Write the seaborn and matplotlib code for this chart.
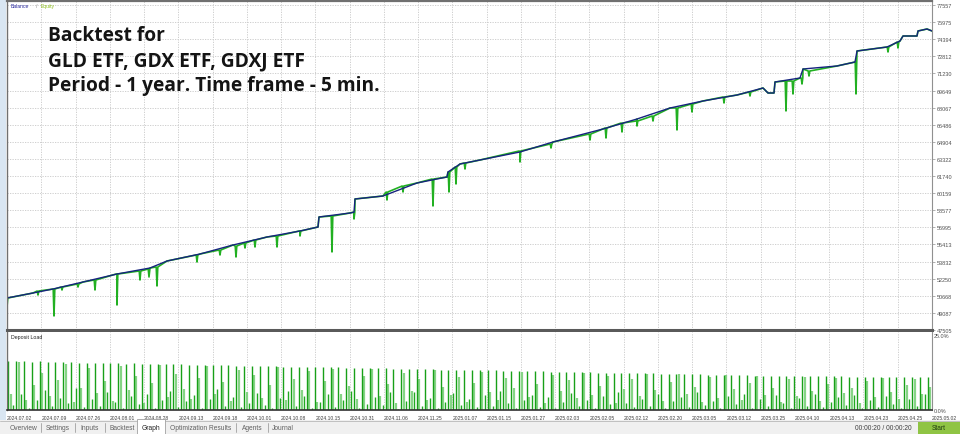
import numpy as np
import pandas as pd
import matplotlib
matplotlib.use("Agg")
import matplotlib.pyplot as plt
import matplotlib.transforms as mtransforms
from matplotlib.patches import Rectangle
import seaborn as sns

# balance curve: deal number and balance
balance_deal = [0, 26, 46, 76, 110, 143, 160, 193, 226, 260,
                293, 311, 312, 343, 347, 348, 376, 410, 440, 441,
                453, 473, 513, 546, 596, 630, 663, 696, 730, 756,
                761, 767, 768, 793, 796, 830, 848, 850, 880, 893,
                896, 910, 911, 920, 925]
balance_value = [50464, 50926, 51296, 51944, 52683, 53238, 53885, 54533, 55365, 56105,
                 56660, 57029, 57954, 58324, 58400, 59619, 59896, 61098, 61653, 62115,
                 62855, 63225, 63965, 64889, 66091, 67016, 68033, 68681, 69235, 69883,
                 69420, 69420, 70438, 70807, 71640, 71917, 72287, 73304, 73674, 74229,
                 74691, 74691, 75154, 75338, 75154]

# equity drawdowns (spikes below balance)
dip_deal = [0, 31, 47, 55, 71, 88, 110, 133, 142, 150,
            190, 213, 229, 238, 248, 270, 293, 325, 347, 380,
            396, 426, 442, 449, 458, 513, 544, 583, 599, 615,
            630, 646, 670, 685, 717, 743, 779, 786, 795, 802,
            849, 881, 891]
dip_top = [50464, 51111, 51296, 51481, 51759, 52129, 52683, 52961, 53146, 53331,
           54440, 54903, 55273, 55550, 55827, 56197, 56660, 58047, 58400, 60266,
           60820, 61468, 62115, 62577, 62947, 64057, 64704, 65629, 66184, 66646,
           66831, 67294, 68033, 68403, 69050, 69513, 70530, 70530, 70807, 71455,
           72287, 73674, 74137]
dip_low = [49632, 50741, 48800, 51204, 51481, 51204, 49817, 52129, 52407, 51574,
           53793, 54440, 54255, 55088, 55180, 55180, 56197, 54718, 57769, 59526,
           60266, 58971, 60266, 61005, 62392, 63040, 64335, 65074, 65259, 65814,
           66369, 66831, 65999, 67664, 68496, 69143, 67757, 69328, 70252, 70992,
           69328, 73212, 73582]

# deposit load, % (one group of three positions per signal)
load_main = [16.3, 16.2, 16.2, 16.1, 16.2, 16.0, 16.0, 15.9, 16.0, 15.8,
             15.8, 15.7, 15.8, 15.6, 15.6, 15.5, 15.6, 15.4, 15.4, 15.3,
             15.3, 15.2, 15.2, 15.1, 15.1, 15.0, 15.0, 14.9, 14.9, 14.8,
             14.8, 14.7, 14.7, 14.6, 14.6, 14.5, 14.5, 14.4, 14.4, 14.3,
             14.3, 14.2, 14.2, 14.1, 14.1, 14.0, 14.0, 13.9, 13.9, 13.8,
             13.8, 13.7, 13.7, 13.6, 13.6, 13.5, 13.5, 13.4, 13.4, 13.3,
             13.3, 13.2, 13.2, 13.1, 13.1, 13.0, 13.0, 12.9, 12.9, 12.8,
             12.8, 12.7, 12.7, 12.6, 12.6, 12.5, 12.5, 12.4, 12.4, 12.3,
             12.3, 12.2, 12.2, 12.1, 12.1, 12.0, 12.0, 11.9, 11.9, 11.8,
             11.8, 11.7, 11.7, 11.6, 11.6, 11.5, 11.5, 11.5, 11.4, 11.4,
             11.4, 11.3, 11.3, 11.3, 11.2, 11.2, 11.2, 11.1, 11.1, 11.1,
             11.0, 11.0, 11.0, 11.0, 10.9, 10.9, 10.9, 10.9]
load_second = [5.3, 15.9, 3.4, 8.2, 12.5, 4.6, 10.1, 15.5, 2.8, 7.4,
               13.9, 5.8, 9.6, 3.1, 14.8, 6.7, 11.2, 2.4, 8.9, 15.1,
               4.3, 12.0, 7.1, 3.6, 10.8, 14.6, 5.2, 9.3, 2.9, 13.4,
               6.1, 11.7, 4.0, 8.4, 14.2, 3.3, 10.2, 6.8, 12.9, 2.6,
               9.7, 13.6, 5.5, 7.9, 3.8, 11.4, 13.8, 4.7, 8.6, 2.2,
               12.3, 6.4, 10.5, 3.5, 13.2, 7.6, 4.9, 11.0, 2.7, 9.1,
               12.8, 5.9, 3.2, 10.7, 7.3, 12.6, 4.4, 8.8, 2.5, 11.8,
               6.2, 9.9, 3.9, 12.4, 5.1, 8.1, 11.5, 2.3, 7.0, 10.3,
               4.6, 12.1, 6.6, 3.0, 9.4, 11.9, 5.4, 7.7, 2.8, 10.9,
               4.1, 11.6, 6.9, 3.4, 9.0, 11.3, 5.0, 7.5, 2.6, 10.4,
               4.8, 11.1, 6.3, 3.1, 8.7, 10.6, 5.6, 7.2, 2.4, 9.8,
               4.2, 10.8, 6.0, 3.7, 8.3, 10.5, 5.3, 7.8]
load_third = [1.6, 5.2, 0.8, 3.5, 6.8, 1.2, 4.1, 2.3, 7.2, 0.9,
              3.8, 1.5, 6.1, 2.7, 0.7, 4.6, 1.9, 5.5, 0.6, 3.2,
              6.4, 1.1, 2.9, 5.0, 0.8, 3.6, 7.0, 1.4, 4.3, 0.9,
              2.5, 5.8, 1.7, 0.6, 3.9, 6.2, 1.3, 4.8, 0.7, 2.8,
              5.3, 1.0, 3.4, 6.5, 0.8, 2.1, 4.5, 1.6, 5.9, 0.5,
              3.0, 6.0, 1.2, 4.0, 0.7, 2.6, 5.6, 1.8, 3.7, 0.9,
              4.9, 1.4, 6.3, 2.2, 0.6, 3.5, 5.1, 1.1, 4.4, 0.8,
              2.7, 5.7, 1.5, 3.3, 0.7, 4.7, 1.9, 6.1, 2.4, 0.9,
              3.8, 1.3, 5.4, 0.6, 2.9, 4.2, 1.0, 5.9, 1.7, 3.1,
              0.8, 4.6, 2.0, 5.2, 0.7, 3.6, 1.4, 4.9, 2.3, 0.6,
              3.9, 1.2, 5.5, 0.9, 2.6, 4.3, 1.6, 5.0, 0.7, 3.2,
              1.1, 4.8, 2.1, 0.6, 3.7, 1.5, 5.3, 0.9]

y_labels = [47505, 49087, 50668, 52250, 53832, 55413, 56995, 58577, 60159, 61740,
            63322, 64904, 66486, 68067, 69649, 71230, 72812, 74394, 75975, 77557]
date_labels = ["2024.07.02", "2024.07.09", "2024.07.26", "2024.08.01", "2024.08.28",
               "2024.09.13", "2024.09.18", "2024.10.01", "2024.10.08", "2024.10.15",
               "2024.10.31", "2024.11.06", "2024.11.25", "2025.01.07", "2025.01.15",
               "2025.01.27", "2025.02.03", "2025.02.05", "2025.02.12", "2025.02.20",
               "2025.03.05", "2025.03.12", "2025.03.25", "2025.04.10", "2025.04.13",
               "2025.04.23", "2025.04.25", "2025.05.02"]
tabs = ["Overview", "Settings", "Inputs", "Backtest", "Graph",
        "Optimization Results", "Agents", "Journal"]

n_deals = 925
date_pos = np.linspace(0, n_deals, len(date_labels))

# equity = balance with the drawdown spikes merged in
eq = pd.DataFrame({"deal": balance_deal, "value": balance_value})
spikes = pd.DataFrame({
    "deal": np.concatenate([np.array(dip_deal) - 0.8, dip_deal, np.array(dip_deal) + 0.8]),
    "value": np.concatenate([dip_top, dip_low, dip_top]),
})
eq = pd.concat([eq, spikes]).sort_values("deal", kind="mergesort")
bal = pd.DataFrame({"deal": balance_deal, "value": balance_value})

sns.set_style("white")
plt.rcParams["font.family"] = ["Liberation Sans", "DejaVu Sans"]

W, H = 960, 435
fig = plt.figure(figsize=(W / 100, H / 100), dpi=100)


def px_axes(x0, y0, x1, y1, **kw):
    return fig.add_axes([x0 / W, 1 - y1 / H, (x1 - x0) / W, (y1 - y0) / H], **kw)


bg = px_axes(0, 0, W, H, zorder=0)
bg.set_xlim(0, W)
bg.set_ylim(H, 0)
bg.axis("off")
bg.add_patch(Rectangle((0, 0), 6, 422, color="#d9e6f2", lw=0))
bg.add_patch(Rectangle((0, 421), W, 14, color="#f0f0f0", lw=0))
bg.plot([0, W], [421.5, 421.5], color="#b8b8b8", lw=0.6)

grid_kw = dict(color="#c8c8c8", lw=0.6, linestyle=(0, (1.5, 1.5)))

# main balance / equity panel
ax = px_axes(7, 2, 932, 331, zorder=2)
sns.lineplot(data=eq, x="deal", y="value", ax=ax, color="#22b022", lw=1.2,
             estimator=None, sort=False)
sns.lineplot(data=bal, x="deal", y="value", ax=ax, color="#16237e", lw=1.0,
             estimator=None, sort=False)
ax.set_xlim(0, n_deals)
ax.set_ylim(y_labels[0], y_labels[-1] + 4 * (y_labels[-1] - y_labels[0]) / 325)
ax.set_yticks(y_labels)
ax.set_yticklabels([str(v) for v in y_labels])
ax.yaxis.tick_right()
ax.set_xticks(date_pos)
ax.set_xticklabels([])
ax.tick_params(axis="x", length=0)
ax.tick_params(axis="y", direction="out", length=2, width=0.5, color="#909090",
               labelsize=4, labelcolor="#505050", pad=1.5)
ax.grid(True, **grid_kw)
ax.set_xlabel("")
ax.set_ylabel("")
for side, c, w in [("left", "#707070", 1.0), ("top", "#707070", 1.6),
                   ("right", "#909090", 0.8), ("bottom", "#5a5a5a", 2.2)]:
    ax.spines[side].set_color(c)
    ax.spines[side].set_linewidth(w)
ax.text(0.004, 0.994, "Balance", color="#2a2aa0", fontsize=3.6, transform=ax.transAxes,
        va="top", ha="left")
ax.text(0.031, 0.994, "/", color="#808080", fontsize=3.6, transform=ax.transAxes,
        va="top", ha="left")
ax.text(0.036, 0.994, "Equity", color="#8cbf1a", fontsize=3.6, transform=ax.transAxes,
        va="top", ha="left")

# deposit load panel
axl = px_axes(7, 333, 932, 411, zorder=2)
step = 7.86
base = 1.3 + step * np.arange(len(load_main))
axl.vlines(base + 2.4, 0, load_second, colors="#86d486", lw=1.6)
axl.vlines(base, 0, load_main, colors="#18a018", lw=1.0)
axl.vlines(base + 4.8, 0, load_third, colors="#1fa81f", lw=1.0)
axl.set_xlim(0, n_deals)
axl.set_ylim(0, 26)
axl.set_yticks([0, 25])
axl.set_yticklabels(["0.0%", "25.0%"])
axl.yaxis.tick_right()
axl.set_xticks(date_pos)
axl.set_xticklabels([])
axl.tick_params(axis="x", length=0)
axl.tick_params(axis="y", length=0, labelsize=4, labelcolor="#505050", pad=1.5)
axl.grid(True, axis="x", **grid_kw)
for side, c, w in [("left", "#707070", 1.0), ("top", "#5a5a5a", 0.0),
                   ("right", "#909090", 0.8), ("bottom", "#303030", 1.2)]:
    axl.spines[side].set_color(c)
    axl.spines[side].set_linewidth(w)
axl.text(0.004, 0.97, "Deposit Load", fontsize=3.8, color="#202020",
         transform=axl.transAxes, va="top", ha="left")
trans = mtransforms.blended_transform_factory(axl.transData, axl.transAxes)
for p, lab in zip(date_pos, date_labels):
    axl.text(p, -0.09, lab, transform=trans, fontsize=3.6, color="#404040",
             ha="left", va="center", clip_on=False)

# overlay: title and bottom tab bar
ov = px_axes(0, 0, W, H, zorder=5)
ov.set_xlim(0, W)
ov.set_ylim(H, 0)
ov.axis("off")
ov.patch.set_alpha(0)
title_lines = ["Backtest for", "GLD ETF, GDX ETF, GDXJ ETF",
               "Period - 1 year. Time frame - 5 min."]
for i, line in enumerate(title_lines):
    ov.text(48, 41 + 25 * i, line, fontsize=13.8, fontweight="bold",
            family="Open Sans", color="#141414", ha="left", va="baseline")

tab_x = [23, 58, 90, 122, 151, 201, 252, 283]
sep_x = [41, 75, 105, 236, 268]
ov.add_patch(Rectangle((137, 420), 28, 15, facecolor="white", edgecolor="#a0a0a0", lw=0.6))
for x, t in zip(tab_x, tabs):
    ov.text(x, 428.5, t, fontsize=4.8, color="#202020" if t == "Graph" else "#606060",
            ha="center", va="center")
for x in sep_x:
    ov.plot([x, x], [424, 433], color="#a0a0a0", lw=0.6)
ov.text(912, 428.5, "00:00:20 / 00:00:20", fontsize=4.8, color="#404040",
        ha="right", va="center")
ov.add_patch(Rectangle((918, 423), 42, 12, color="#8fc444", lw=0))
ov.text(939, 429, "Start", fontsize=4.8, color="#1e3a10", ha="center", va="center")

fig.savefig("out.png", dpi=100)
